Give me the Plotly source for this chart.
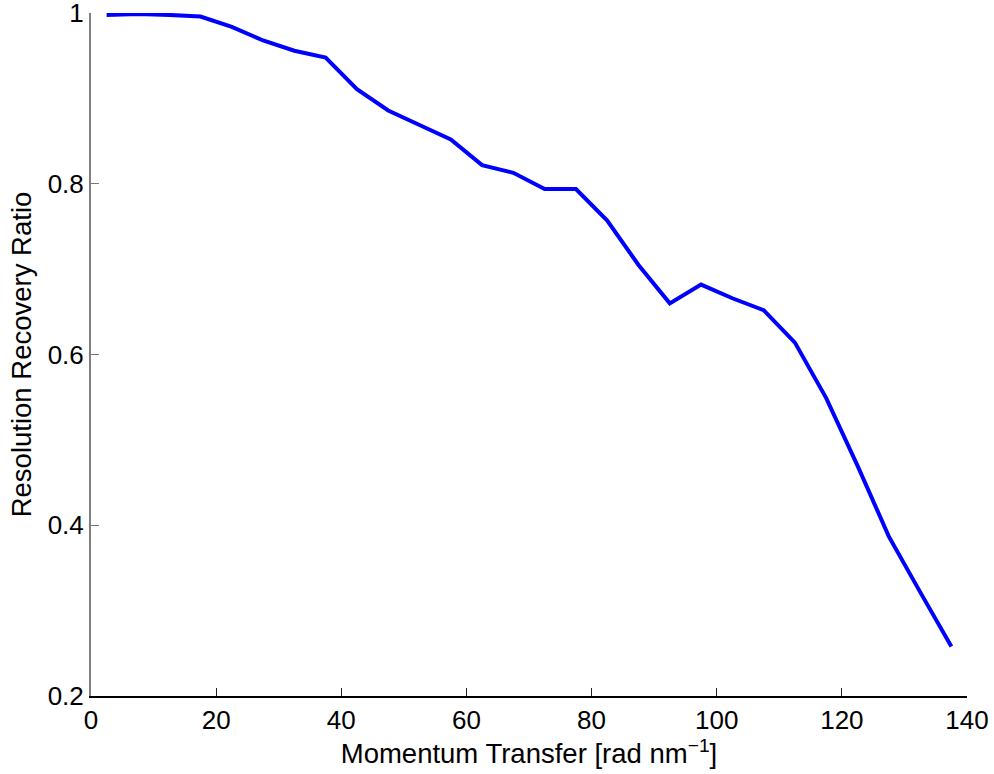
import plotly.graph_objects as go

# Momentum transfer bin centres (rad/nm) and the recovered resolution ratio
momentum = [2.5, 7.5, 12.5, 17.5, 22.5, 27.5, 32.5, 37.5, 42.5, 47.5,
            52.5, 57.5, 62.5, 67.5, 72.5, 77.5, 82.5, 87.5, 92.5, 97.5,
            102.5, 107.5, 112.5, 117.5, 122.5, 127.5, 132.5, 137.5]
ratio = [0.998, 0.999, 0.998, 0.996, 0.984, 0.968, 0.956, 0.948, 0.911, 0.886,
         0.869, 0.852, 0.822, 0.813, 0.794, 0.794, 0.757, 0.705, 0.660, 0.682,
         0.666, 0.652, 0.614, 0.549, 0.470, 0.387, 0.322, 0.258]

x_ticks = [0, 20, 40, 60, 80, 100, 120, 140]
y_ticks = [0.2, 0.4, 0.6, 0.8, 1.0]
y_tick_text = ["0.2", "0.4", "0.6", "0.8", "1"]

font_family = "Liberation Sans, Arial, Helvetica, sans-serif"

fig = go.Figure()
fig.add_trace(go.Scatter(
    x=momentum, y=ratio, mode="lines",
    line=dict(color="#0000ff", width=4),
    showlegend=False, cliponaxis=False,
))

fig.update_layout(
    width=994, height=774,
    margin=dict(l=91, r=27, t=13, b=78, pad=0),
    paper_bgcolor="white", plot_bgcolor="white",
    font=dict(family=font_family, size=26, color="black"),
)

fig.update_xaxes(
    range=[0, 140], tickmode="array", tickvals=x_ticks,
    ticks="inside", ticklen=8, tickwidth=1, tickcolor="#222",
    showline=True, linecolor="black", linewidth=1.5,
    showgrid=False, zeroline=False, mirror=False, automargin=False,
    ticklabeloverflow="allow",
    tickfont=dict(size=26),
    title=dict(text="Momentum Transfer [rad nm<sup>−1</sup>]",
               font=dict(size=27.5), standoff=8),
)
fig.update_yaxes(
    range=[0.2, 1.0002], tickmode="array", tickvals=y_ticks, ticktext=y_tick_text,
    ticks="inside", ticklen=8, tickwidth=1, tickcolor="#777",
    showline=True, linecolor="#808080", linewidth=2,
    showgrid=False, zeroline=False, mirror=False, automargin=False,
    ticklabeloverflow="allow",
    tickfont=dict(size=26),
    title=dict(text="Resolution Recovery Ratio", font=dict(size=27.5), standoff=8),
)

fig.write_html("out.html")
